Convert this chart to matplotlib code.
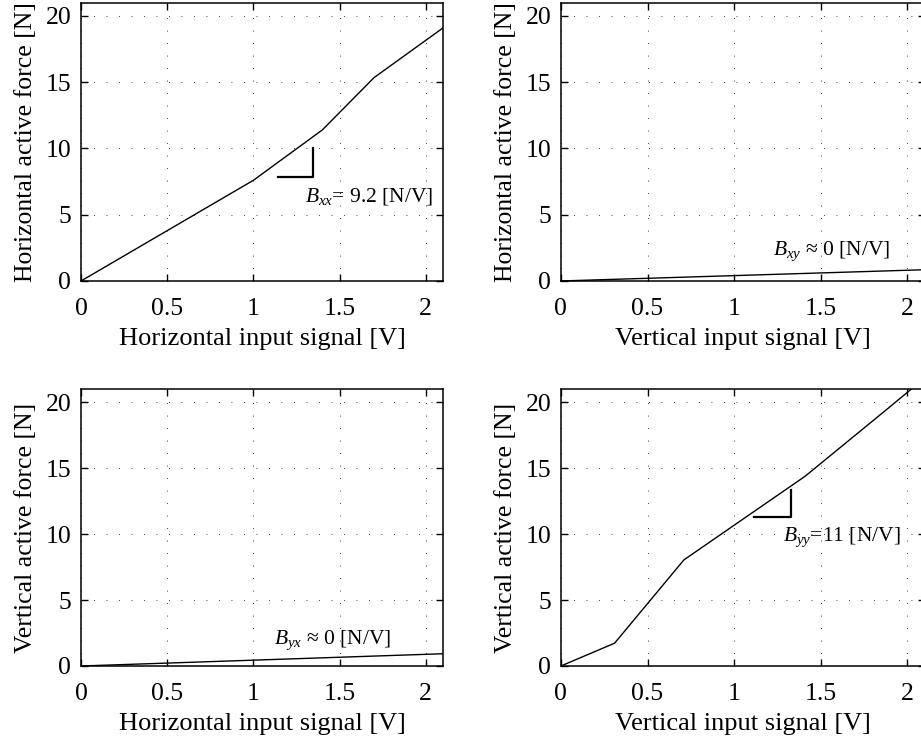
import matplotlib
matplotlib.use('Agg')
import matplotlib.pyplot as plt

plt.rcParams['font.family'] = ['Liberation Serif', 'DejaVu Serif']
plt.rcParams['mathtext.fontset'] = 'custom'
plt.rcParams['mathtext.rm'] = 'Liberation Serif'
plt.rcParams['mathtext.it'] = 'Liberation Serif:italic'

# measured curves
x_hh = [0, 1.0, 1.4, 1.7, 2.1]
f_hh = [0, 7.6, 11.4, 15.35, 19.1]
x_hv = [0, 2.1]
f_hv = [0, 0.85]
x_vh = [0, 2.1]
f_vh = [0, 0.93]
x_vv = [0, 0.31, 0.71, 1.41, 1.87, 2.1]
f_vv = [0, 1.73, 8.05, 14.4, 19.35, 21.85]

# slope triangles (x0, x1, y0, y1)
tri_xx = (1.14, 1.345, 7.86, 10.0)
tri_yy = (1.115, 1.327, 11.27, 13.36)

xticks = [0, 0.5, 1, 1.5, 2]
xticklabels = ['0', '0.5', '1', '1.5', '2']
yticks = [0, 5, 10, 15, 20]

fig = plt.figure(figsize=(9.21, 7.40), dpi=100)
ax1 = fig.add_axes([0.088, 0.6203, 0.393, 0.376])
ax2 = fig.add_axes([0.609, 0.6203, 0.395, 0.376])
ax3 = fig.add_axes([0.088, 0.100, 0.393, 0.374])
ax4 = fig.add_axes([0.609, 0.100, 0.395, 0.374])

def style(ax, xlabel, ylabel):
    ax.set_xlim(0, 2.1)
    ax.set_ylim(0, 21)
    ax.set_xticks(xticks)
    ax.set_xticklabels(xticklabels)
    ax.set_yticks(yticks)
    ax.tick_params(direction='in', top=True, right=True, length=5,
                   width=1.0, labelsize=18.5)
    ax.tick_params(axis='x', pad=12)
    ax.tick_params(axis='y', pad=7)
    ax.grid(True, color='black', linestyle=(0, (1, 14)), linewidth=0.6)
    for s in ax.spines.values():
        s.set_linewidth(1.1)
    ax.set_xlabel(xlabel, fontsize=19, labelpad=6)
    ax.set_ylabel(ylabel, fontsize=18.5, labelpad=6)

ax1.plot(x_hh, f_hh, color='black', lw=1.0)
style(ax1, 'Horizontal input signal [V]', 'Horizontal active force [N]')
ax1.plot([tri_xx[0], tri_xx[1], tri_xx[1]], [tri_xx[2], tri_xx[2], tri_xx[3]],
         color='black', lw=1.6)
ax1.text(1.30, 6.0, r'$B_{xx}$= 9.2 [N/V]', fontsize=15.5)

ax2.plot(x_hv, f_hv, color='black', lw=1.0, clip_on=False)
style(ax2, 'Vertical input signal [V]', 'Horizontal active force [N]')
ax2.text(1.225, 1.95, r'$B_{xy}$ ≈ 0 [N/V]', fontsize=15.5)

ax3.plot(x_vh, f_vh, color='black', lw=1.0)
style(ax3, 'Horizontal input signal [V]', 'Vertical active force [N]')
ax3.text(1.12, 1.7, r'$B_{yx}$ ≈ 0 [N/V]', fontsize=15.5)

ax4.plot(x_vv, f_vv, color='black', lw=1.0)
style(ax4, 'Vertical input signal [V]', 'Vertical active force [N]')
ax4.plot([tri_yy[0], tri_yy[1], tri_yy[1]], [tri_yy[2], tri_yy[2], tri_yy[3]],
         color='black', lw=1.6)
ax4.text(1.28, 9.5, r'$B_{yy}$=11 [N/V]', fontsize=15.5)

fig.savefig('out.png', dpi=100)
